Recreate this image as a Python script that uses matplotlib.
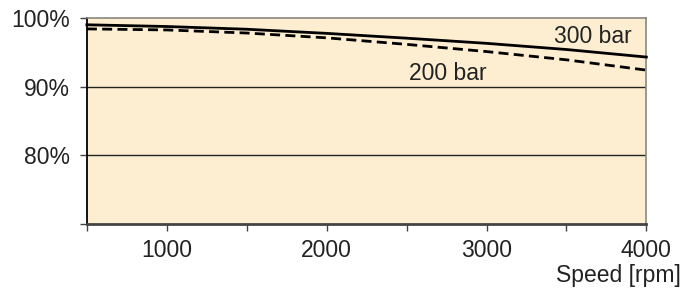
import matplotlib.pyplot as plt

plt.rcParams['font.family'] = ['Liberation Sans', 'DejaVu Sans']

# speed [rpm] and efficiency [%]
speed = [500, 1000, 1500, 2000, 2500, 3000, 3500, 4000]
eff_300 = [99.0, 98.75, 98.35, 97.75, 97.05, 96.3, 95.4, 94.3]
eff_200 = [98.4, 98.25, 97.8, 97.1, 96.15, 95.1, 93.9, 92.4]

major_x = [1000, 2000, 3000, 4000]
minor_x = [500, 1500, 2500, 3500]
y_ticks = [70, 80, 90, 100]
y_labels = ['', '80%', '90%', '100%']

fig = plt.figure(figsize=(6.95, 2.89), dpi=100)
ax = fig.add_axes([0.125, 0.225, 0.805, 0.713])
ax.set_facecolor('#fdeed2')

for y in [80, 90]:
    ax.axhline(y, color='#222222', lw=1.0, zorder=1)

ax.plot(speed, eff_300, color='black', lw=2.0, zorder=3, clip_on=False)
ax.plot(speed, eff_200, color='black', lw=2.0, dashes=(3.6, 1.9), zorder=3, clip_on=False)

ax.text(3910, 97.3, '300 bar', ha='right', va='center', fontsize=16.5, color='#222222')
ax.text(3000, 91.9, '200 bar', ha='right', va='center', fontsize=16.5, color='#222222')

ax.set_xlim(500, 4000)
ax.set_ylim(70, 100)
ax.set_xticks(major_x)
ax.set_xticklabels([str(v) for v in major_x])
ax.set_xticks(minor_x, minor=True)
ax.set_yticks(y_ticks)
ax.set_yticklabels(y_labels)

ax.tick_params(axis='both', which='both', length=5, width=1, color='#444444',
               labelsize=16.5, labelcolor='#222222', direction='out')
ax.tick_params(axis='x', pad=6)
ax.tick_params(axis='y', pad=7)

ax.spines['left'].set_color('black')
ax.spines['left'].set_linewidth(1.3)
ax.spines['bottom'].set_color('#444444')
ax.spines['bottom'].set_linewidth(2)
ax.spines['top'].set_color('#888880')
ax.spines['top'].set_linewidth(1.2)
ax.spines['right'].set_color('#888880')
ax.spines['right'].set_linewidth(1.2)

fig.text(0.979, 0.048, 'Speed [rpm]', ha='right', va='center', fontsize=16.5, color='#222222')

fig.savefig('out.png', dpi=100)
